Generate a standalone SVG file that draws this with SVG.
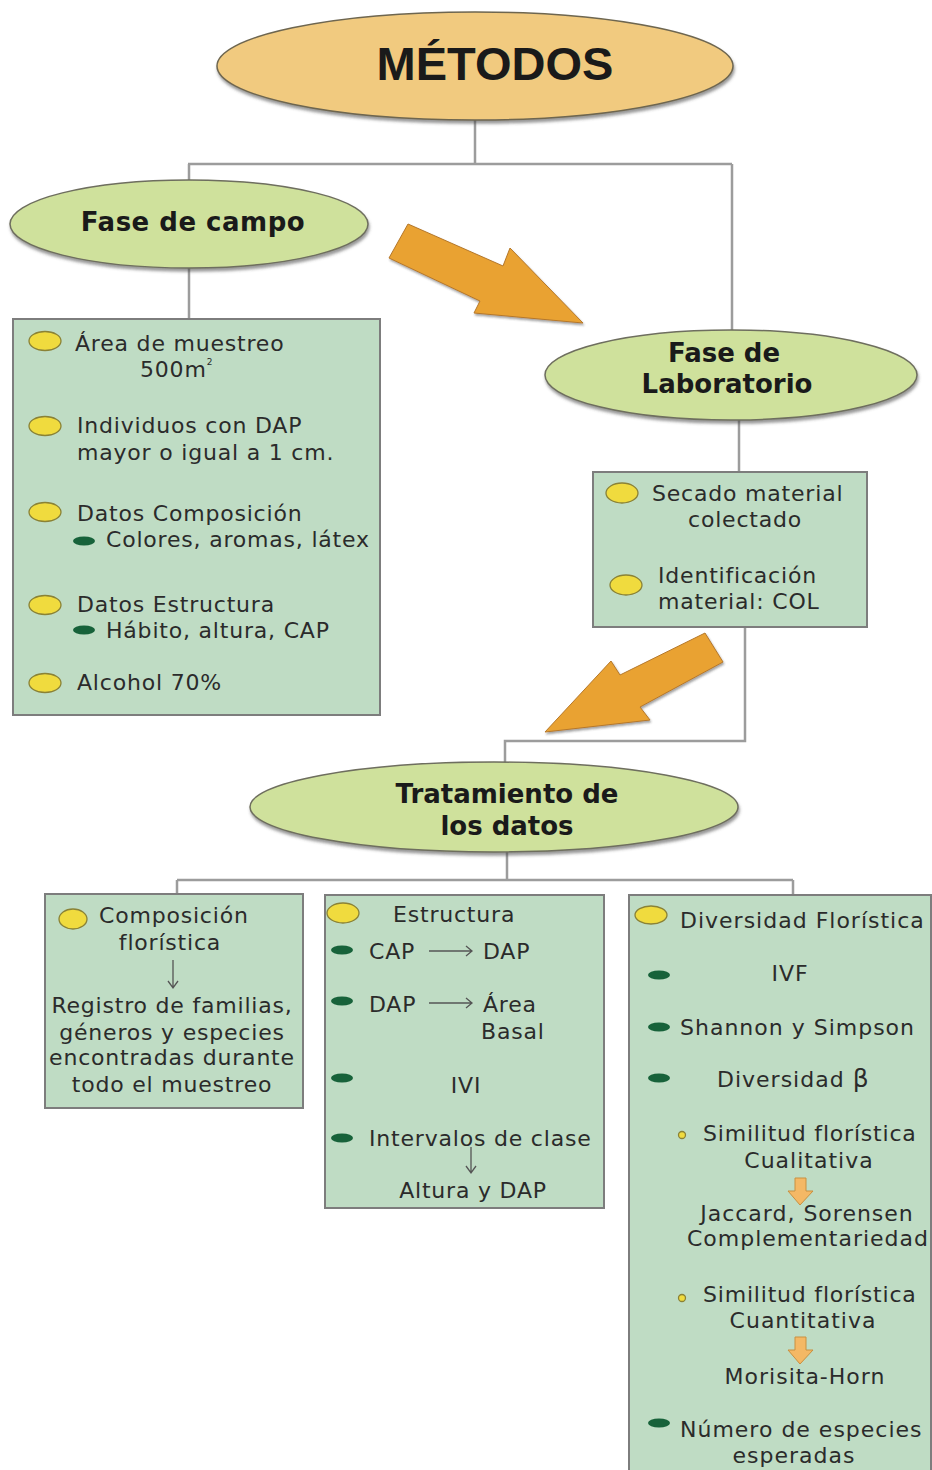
<svg xmlns="http://www.w3.org/2000/svg" width="932" height="1470" viewBox="0 0 932 1470">
<defs>
<filter id="sh" x="-10%" y="-10%" width="120%" height="135%"><feDropShadow dx="1" dy="3" stdDeviation="1.5" flood-color="#444" flood-opacity="0.55"/></filter>
<filter id="ash" x="-10%" y="-10%" width="125%" height="130%"><feDropShadow dx="1" dy="2" stdDeviation="1" flood-color="#333" flood-opacity="0.45"/></filter>
</defs>
<style>
.t{font-family:"DejaVu Sans",Verdana,sans-serif;font-size:22px;fill:#2b2b2b}
.l5{letter-spacing:0.5px}
.l8{letter-spacing:0.8px}
.l10{letter-spacing:1px}
.h{font-family:"DejaVu Sans",Verdana,sans-serif;font-weight:bold;font-size:26px;fill:#1a1a1a}
.box{fill:#bfdcc4;stroke:#7d7d7d;stroke-width:2}
.yb{fill:#f0db3e;stroke:#8a8236;stroke-width:1.3}
.gb{fill:#17623a}
.ln{fill:none;stroke:#9c9c9c;stroke-width:2.5}
.arr{fill:#e9a233;stroke:#b5782a;stroke-width:1}
.sa{fill:none;stroke:#555;stroke-width:1.3}
.oa{fill:#f4b865;stroke:#c89040;stroke-width:1}
.ge{fill:#cfe19c;stroke:#6e6e5e;stroke-width:1.5}
</style>

<g id="connectors">
<path class="ln" d="M475 120 V164 M188 164 H732 M189 164 V181 M732 164 V331 M189 268 V319 M739 420 V472 M745 627 V741 H505 V763 M507 852 V880 M177 880 H793 M177 880 V894 M793 880 V895"/>
<polygon class="arr" filter="url(#ash)" points="408,224 503,266 510,248 583,323 474,313 480,301 389,258"/>
<polygon class="arr" filter="url(#ash)" points="705,633 723,662 640,707 650,720 545,732 611,661 620,675"/>
</g>

<g id="metodos">
<ellipse cx="475" cy="66" rx="258" ry="54" fill="#f1ca7f" stroke="#6e6650" stroke-width="1.5" filter="url(#sh)"/>
<text x="495" y="80" text-anchor="middle" font-family="'Liberation Sans',Arial,sans-serif" font-weight="bold" font-size="47" fill="#1a1a1a">MÉTODOS</text>
</g>

<g id="fase-campo">
<ellipse class="ge" cx="189" cy="224" rx="179" ry="44" filter="url(#sh)"/>
<text class="h" x="193" y="231" text-anchor="middle" font-size="27" letter-spacing="0.5">Fase de campo</text>
</g>

<g id="campo-box">
<rect class="box" x="13" y="319" width="367" height="396"/>
<ellipse class="yb" cx="45" cy="341" rx="16" ry="9.5"/>
<text class="t l8" x="75" y="351">Área de muestreo</text>
<text class="t l8" x="140" y="377">500m<tspan font-size="9" dy="-12">2</tspan></text>
<ellipse class="yb" cx="45" cy="426" rx="16" ry="9.5"/>
<text class="t l8" x="77" y="433">Individuos con DAP</text>
<text class="t l8" x="77" y="460">mayor o igual a 1 cm.</text>
<ellipse class="yb" cx="45" cy="512" rx="16" ry="9.5"/>
<text class="t l8" x="77" y="521">Datos Composición</text>
<ellipse class="gb" cx="84" cy="541" rx="11" ry="4.5"/>
<text class="t l8" x="106" y="547">Colores, aromas, látex</text>
<ellipse class="yb" cx="45" cy="605" rx="16" ry="9.5"/>
<text class="t l8" x="77" y="612">Datos Estructura</text>
<ellipse class="gb" cx="84" cy="630" rx="11" ry="4.5"/>
<text class="t l8" x="106" y="638">Hábito, altura, CAP</text>
<ellipse class="yb" cx="45" cy="683" rx="16" ry="9.5"/>
<text class="t l8" x="77" y="690">Alcohol 70%</text>
</g>

<g id="fase-laboratorio">
<ellipse class="ge" cx="731" cy="375" rx="186" ry="45" filter="url(#sh)"/>
<text class="h" x="724" y="362" text-anchor="middle">Fase de</text>
<text class="h" x="727" y="393" text-anchor="middle">Laboratorio</text>
</g>

<g id="lab-box">
<rect class="box" x="593" y="472" width="274" height="155"/>
<ellipse class="yb" cx="622" cy="493" rx="16" ry="10"/>
<text class="t l8" x="652" y="501">Secado material</text>
<text class="t l8" x="745" y="527" text-anchor="middle">colectado</text>
<ellipse class="yb" cx="626" cy="585" rx="16" ry="10"/>
<text class="t l8" x="658" y="583">Identificación</text>
<text class="t l8" x="658" y="609">material: COL</text>
</g>

<g id="tratamiento">
<ellipse class="ge" cx="494" cy="807" rx="244" ry="45" filter="url(#sh)"/>
<text class="h" x="507" y="803" text-anchor="middle">Tratamiento de</text>
<text class="h" x="507" y="835" text-anchor="middle">los datos</text>
</g>

<g id="composicion-box">
<rect class="box" x="45" y="894" width="258" height="214"/>
<ellipse class="yb" cx="73" cy="919" rx="14" ry="10"/>
<text class="t l8" x="99" y="923">Composición</text>
<text class="t l8" x="170" y="950" text-anchor="middle">florística</text>
<path class="sa" d="M173 960 V988 M168 981 L173 988 L178 981"/>
<text class="t l8" x="172" y="1013" text-anchor="middle">Registro de familias,</text>
<text class="t l8" x="172" y="1040" text-anchor="middle">géneros y especies</text>
<text class="t l8" x="172" y="1065" text-anchor="middle">encontradas durante</text>
<text class="t l8" x="172" y="1092" text-anchor="middle">todo el muestreo</text>
</g>

<g id="estructura-box">
<rect class="box" x="325" y="895" width="279" height="313"/>
<ellipse class="yb" cx="343" cy="913" rx="16" ry="10"/>
<text class="t l8" x="393" y="922">Estructura</text>
<ellipse class="gb" cx="342" cy="950" rx="11" ry="4.5"/>
<text class="t l8" x="369" y="959">CAP</text>
<path class="sa" d="M429 951 H472 M466 946 L472 951 L466 956"/>
<text class="t l8" x="483" y="959">DAP</text>
<ellipse class="gb" cx="342" cy="1001" rx="11" ry="4.5"/>
<text class="t l8" x="369" y="1012">DAP</text>
<path class="sa" d="M429 1003 H472 M466 998 L472 1003 L466 1008"/>
<text class="t l8" x="483" y="1012">Área</text>
<text class="t l8" x="481" y="1039">Basal</text>
<ellipse class="gb" cx="342" cy="1078" rx="11" ry="4.5"/>
<text class="t l8" x="466" y="1093" text-anchor="middle">IVI</text>
<ellipse class="gb" cx="342" cy="1138" rx="11" ry="4.5"/>
<text class="t l8" x="369" y="1146">Intervalos de clase</text>
<path class="sa" d="M471 1147 V1173 M466 1166 L471 1173 L476 1166"/>
<text class="t l8" x="473" y="1198" text-anchor="middle">Altura y DAP</text>
</g>

<g id="diversidad-box">
<rect class="box" x="629" y="895" width="302" height="580"/>
<ellipse class="yb" cx="651" cy="915" rx="16" ry="9"/>
<text class="t l10" x="680" y="928">Diversidad Florística</text>
<ellipse class="gb" cx="659" cy="975" rx="11" ry="4.5"/>
<text class="t l10" x="790" y="981" text-anchor="middle">IVF</text>
<ellipse class="gb" cx="659" cy="1027" rx="11" ry="4.5"/>
<text class="t l10" x="680" y="1035">Shannon y Simpson</text>
<ellipse class="gb" cx="659" cy="1078" rx="11" ry="4.5"/>
<text class="t l10" x="717" y="1087">Diversidad <tspan font-size="25">β</tspan></text>
<circle class="yb" cx="682" cy="1135" r="3.5"/>
<text class="t l8" x="703" y="1141">Similitud florística</text>
<text class="t l10" x="809" y="1168" text-anchor="middle">Cualitativa</text>
<polygon class="oa" points="795,1178 806,1178 806,1191 813,1191 800,1205 788,1191 795,1191"/>
<text class="t l10" x="807" y="1221" text-anchor="middle">Jaccard, Sorensen</text>
<text class="t l10" x="808" y="1246" text-anchor="middle">Complementariedad</text>
<circle class="yb" cx="682" cy="1298" r="3.5"/>
<text class="t l8" x="703" y="1302">Similitud florística</text>
<text class="t l10" x="803" y="1328" text-anchor="middle">Cuantitativa</text>
<polygon class="oa" points="795,1337 806,1337 806,1350 813,1350 800,1364 788,1350 795,1350"/>
<text class="t l10" x="805" y="1384" text-anchor="middle">Morisita-Horn</text>
<ellipse class="gb" cx="659" cy="1423" rx="11" ry="4.5"/>
<text class="t l10" x="680" y="1437">Número de especies</text>
<text class="t l10" x="794" y="1463" text-anchor="middle">esperadas</text>
</g>
</svg>
